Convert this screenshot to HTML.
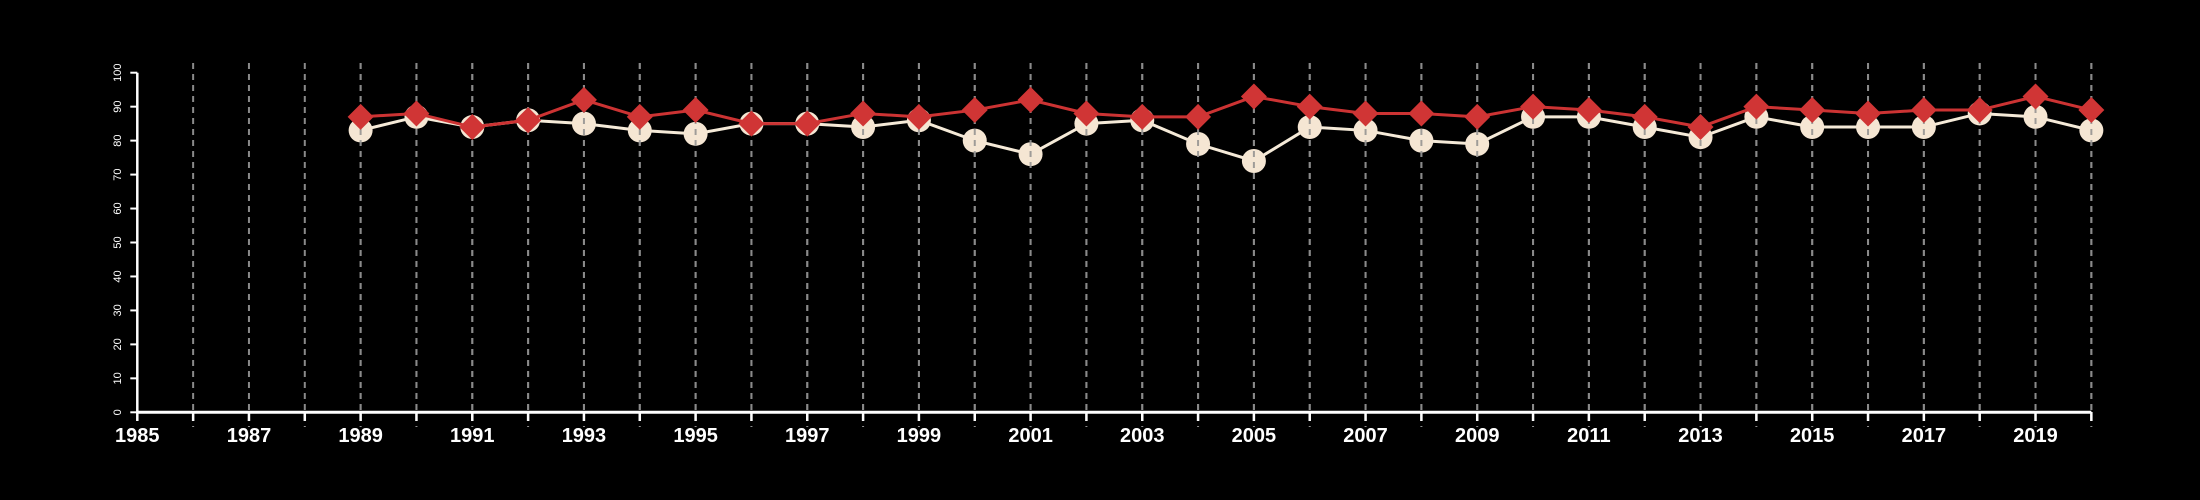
<!DOCTYPE html>
<html><head><meta charset="utf-8"><style>html,body{margin:0;padding:0;background:#000;width:2200px;height:500px;overflow:hidden}</style></head>
<body>
<svg id="s" width="2200" height="500" xmlns="http://www.w3.org/2000/svg" style="background:#000;font-family:'Liberation Sans',sans-serif"></svg>
<script>
const s=document.getElementById('s');
const X=y=>137.3+(y-1985)*55.83, Y=v=>412.3-v*3.396;
let h='';
for(let yr=1986;yr<=2020;yr++)h+=`<line x1="${X(yr)}" y1="63" x2="${X(yr)}" y2="427" stroke="#8a8a8a" stroke-width="2" stroke-dasharray="6,5"/>`;
h+=`<line x1="${X(1985)}" y1="412.3" x2="${X(2020)}" y2="412.3" stroke="#fff" stroke-width="3"/>`;
for(let yr=1985;yr<=2020;yr++){h+=`<line x1="${X(yr)}" y1="412" x2="${X(yr)}" y2="421" stroke="#fff" stroke-width="2.5"/>`;
 if(yr%2==1)h+=`<text x="${X(yr)}" y="442" fill="#fff" font-size="20" font-weight="bold" text-anchor="middle">${yr}</text>`;}
h+=`<line x1="${X(1985)}" y1="${Y(0)}" x2="${X(1985)}" y2="${Y(100)}" stroke="#fff" stroke-width="2.5"/>`;
for(let v=0;v<=100;v+=10){h+=`<line x1="${X(1985)-7}" y1="${Y(v)}" x2="${X(1985)}" y2="${Y(v)}" stroke="#fff" stroke-width="2"/>`;
 h+=`<text transform="translate(121,${Y(v)}) rotate(-90)" fill="#fff" font-size="11" text-anchor="middle">${v}</text>`;}
const w=[83,87,84,86,85,83,82,85,85,84,86,80,76,85,86,79,74,84,83,80,79,87,87,84,81,87,84,84,84,88,87,83];
const r=[87,88,84,86,92,87,89,85,85,88,87,89,92,88,87,87,93,90,88,88,87,90,89,87,84,90,89,88,89,89,93,89];
const pw=w.map((v,i)=>X(1989+i)+','+Y(v)).join(' '), pr=r.map((v,i)=>X(1989+i)+','+Y(v)).join(' ');
h+=`<polyline points="${pw}" fill="none" stroke="#f5ead8" stroke-width="3"/>`;
w.forEach((v,i)=>h+=`<circle cx="${X(1989+i)}" cy="${Y(v)}" r="12" fill="#f5e6d3"/>`);
for(let yr=1989;yr<=2020;yr++)h+=`<line x1="${X(yr)}" y1="63" x2="${X(yr)}" y2="412" stroke="#8a8a8a" stroke-width="2" stroke-dasharray="6,5" opacity="0.8"/>`;
h+=`<polyline points="${pr}" fill="none" stroke="#cc3333" stroke-width="3"/>`;
r.forEach((v,i)=>{const x=X(1989+i),y=Y(v);h+=`<polygon points="${x},${y-13} ${x+13},${y} ${x},${y+13} ${x-13},${y}" fill="#d03535"/>`;});
s.innerHTML=h;
</script>
</body></html>
